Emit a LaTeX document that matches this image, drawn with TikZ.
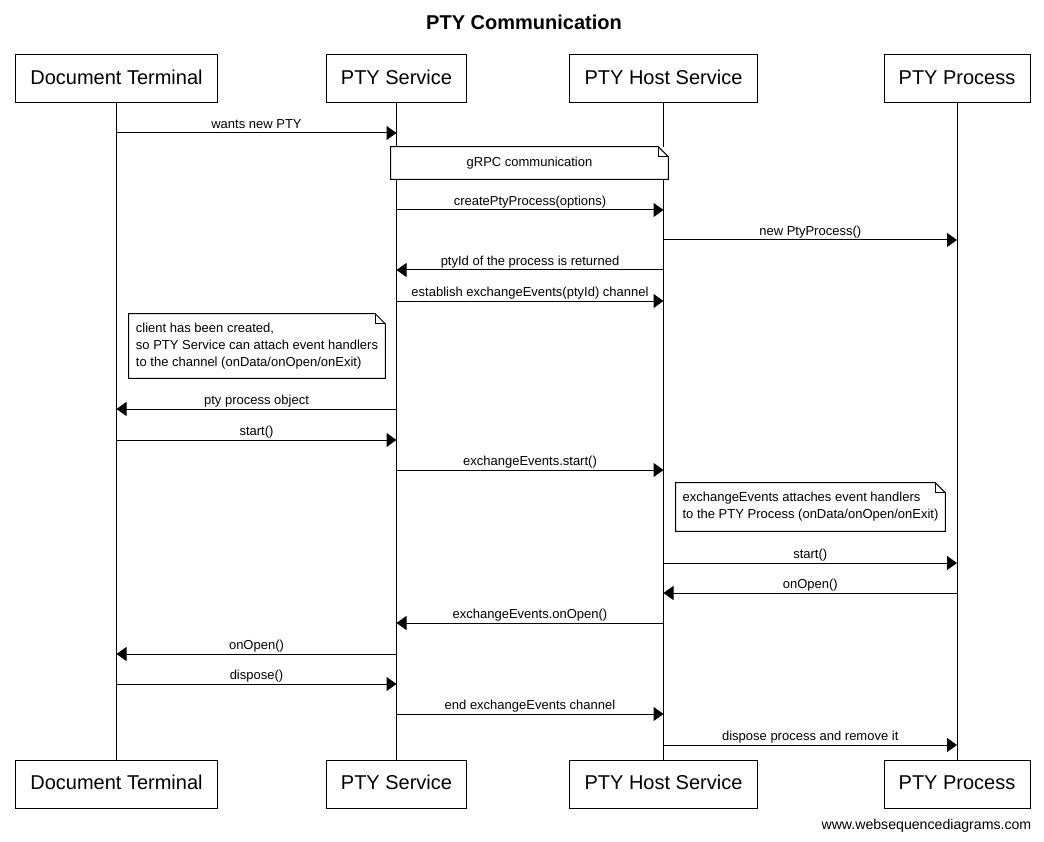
\documentclass[tikz,border=0pt]{standalone}
\usepackage{fontspec}
\setmainfont{Liberation Sans}
\usetikzlibrary{arrows.meta,positioning,calc}

% folded corner outline for a note node
\newcommand{\notefold}[1]{%
  \draw[line width=0.75pt] (#1.north west) -- ([xshift=-7.5pt]#1.north east) -- ([yshift=-7.5pt]#1.north east) -- (#1.south east) -- (#1.south west) -- cycle;
  \draw[line width=0.6pt] ([xshift=-7.5pt]#1.north east) |- ([yshift=-7.5pt]#1.north east);
}

\begin{document}
\begin{tikzpicture}[
    x=0.75pt, y=-0.75pt,
    actor/.style={rectangle, draw, line width=0.75pt, fill=white, minimum height=36pt, inner xsep=11pt, text height=11pt, text depth=3pt, font=\fontsize{15}{18}\selectfont},
    lifeline/.style={line width=0.75pt},
    msg/.style={line width=0.75pt, -{Triangle[length=7.5pt,width=10.5pt]}},
    lbl/.style={above, inner sep=1pt, text height=7pt, text depth=2pt, font=\fontsize{9.75}{11}\selectfont},
    note/.style={rectangle, fill=white, align=left, inner sep=0pt, font=\fontsize{9.75}{12.75}\selectfont},
    title/.style={font=\bfseries\fontsize{15}{18}\selectfont}
]
\useasboundingbox (0,0) rectangle (1044,841);

% Title
\node[title] (title) at (524,22) {PTY Communication};

% Participants (top)
\node[actor] (dt) at (116.5,79) {Document Terminal};
\node[actor] (ps) at (396.5,79) {PTY Service};
\node[actor] (ph) at (663.5,79) {PTY Host Service};
\node[actor] (pp) at (957,79) {PTY Process};

% Participants (bottom)
\node[actor, below=492pt of dt] (dtB) {Document Terminal};
\node[actor, below=492pt of ps] (psB) {PTY Service};
\node[actor, below=492pt of ph] (phB) {PTY Host Service};
\node[actor, below=492pt of pp] (ppB) {PTY Process};

% Lifelines
\draw[lifeline] (dt) -- (dtB);
\draw[lifeline] (ps) -- (psB);
\draw[lifeline] (ph) -- (phB);
\draw[lifeline] (pp) -- (ppB);

% Notes
\node[note, minimum width=207.75pt, minimum height=24pt, align=center] (grpc) at (529.5,163) {gRPC communication};
\notefold{grpc}
\node[note, minimum width=192pt, minimum height=48pt] (created) at (257,346) {client has been created,\\so PTY Service can attach event handlers\\to the channel (onData/onOpen/onExit)};
\notefold{created}
\node[note, minimum width=201.75pt, minimum height=36pt] (attach) at (810.5,507) {exchangeEvents attaches event handlers\\to the PTY Process (onData/onOpen/onExit)};
\notefold{attach}

% Messages
\draw[msg] (dt |- 0,133) -- node[lbl] {wants new PTY} (ps |- 0,133);
\draw[msg] (ps |- 0,210) -- node[lbl] {createPtyProcess(options)} (ph |- 0,210);
\draw[msg] (ph |- 0,240) -- node[lbl] {new PtyProcess()} (pp |- 0,240);
\draw[msg] (ph |- 0,270) -- node[lbl] {ptyId of the process is returned} (ps |- 0,270);
\draw[msg] (ps |- 0,301) -- node[lbl] {establish exchangeEvents(ptyId) channel} (ph |- 0,301);
\draw[msg] (ps |- 0,409) -- node[lbl] {pty process object} (dt |- 0,409);
\draw[msg] (dt |- 0,440) -- node[lbl] {start()} (ps |- 0,440);
\draw[msg] (ps |- 0,470) -- node[lbl] {exchangeEvents.start()} (ph |- 0,470);
\draw[msg] (ph |- 0,563) -- node[lbl] {start()} (pp |- 0,563);
\draw[msg] (pp |- 0,593) -- node[lbl] {onOpen()} (ph |- 0,593);
\draw[msg] (ph |- 0,623) -- node[lbl] {exchangeEvents.onOpen()} (ps |- 0,623);
\draw[msg] (ps |- 0,654) -- node[lbl] {onOpen()} (dt |- 0,654);
\draw[msg] (dt |- 0,684) -- node[lbl] {dispose()} (ps |- 0,684);
\draw[msg] (ps |- 0,714) -- node[lbl] {end exchangeEvents channel} (ph |- 0,714);
\draw[msg] (ph |- 0,745) -- node[lbl] {dispose process and remove it} (pp |- 0,745);

% Footer
\node[anchor=east, font=\fontsize{10.6}{12}\selectfont] (credit) at (1036,826) {www.websequencediagrams.com};

\end{tikzpicture}
\end{document}
